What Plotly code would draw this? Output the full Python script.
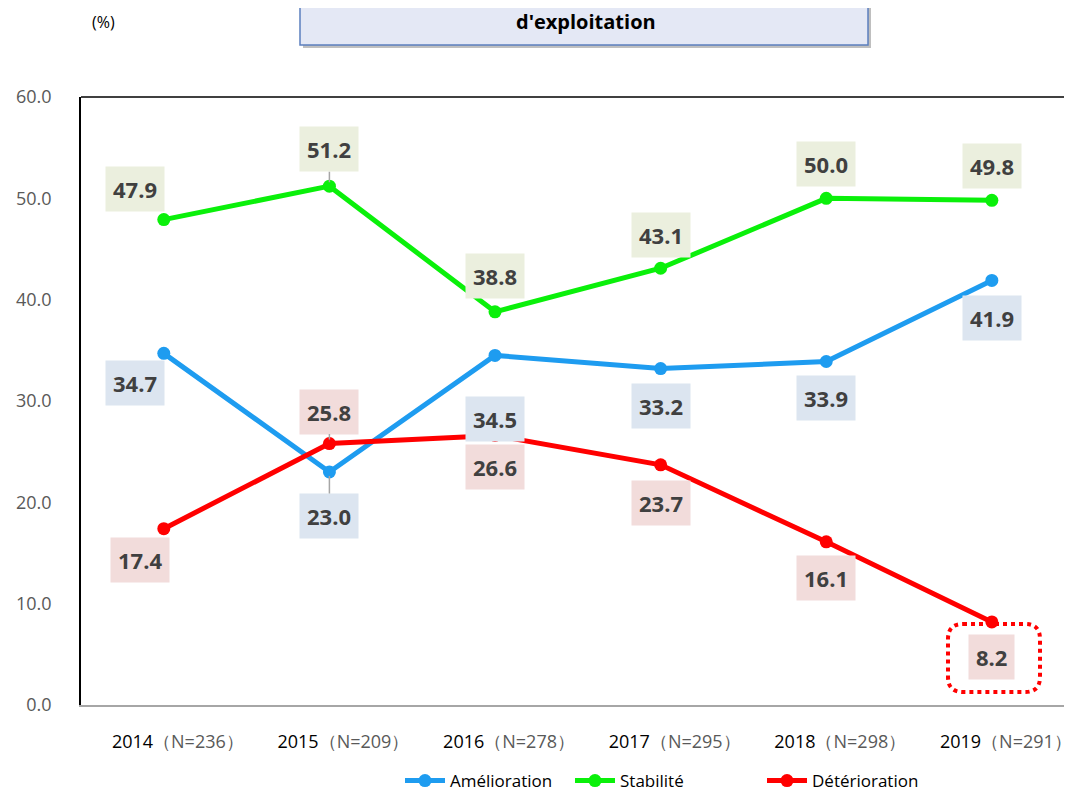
import plotly.graph_objects as go

years = ["2014", "2015", "2016", "2017", "2018", "2019"]
n_counts = ["236", "209", "278", "295", "298", "291"]
amelioration = [34.7, 23.0, 34.5, 33.2, 33.9, 41.9]
stabilite = [47.9, 51.2, 38.8, 43.1, 50.0, 49.8]
deterioration = [17.4, 25.8, 26.6, 23.7, 16.1, 8.2]
y_ticks = [0, 10, 20, 30, 40, 50, 60]

BLUE = "#1E9CF0"
GREEN = "#0AF00A"
RED = "#FF0000"

OFF = 8  # page body margin
W, H = 1072 - OFF, 797 - OFF
L = 81 - OFF
T = 97 - OFF
B = H - (705 - OFF)
PW = W - L
PH = H - T - B

def px(x):  # image pixel -> paper x
    return (x - OFF - L) / PW

def py(y):  # image pixel -> paper y
    return (705 - y) / PH

fig = go.Figure()
xs = list(range(len(years)))
for name, vals, col, lg in [("Amélioration", amelioration, BLUE, "legend"),
                            ("Stabilité", stabilite, GREEN, "legend2"),
                            ("Détérioration", deterioration, RED, "legend3")]:
    fig.add_trace(go.Scatter(x=xs, y=vals, name=name, mode="lines+markers",
                             line=dict(color=col, width=5),
                             marker=dict(color=col, size=13), legend=lg,
                             showlegend=True))

pad = "&nbsp;" * 6
ticktext = [f"{pad}<span style='color:#000000'>{y}</span><span style='color:#595959'>（N={n}）</span>"
            for y, n in zip(years, n_counts)]

offsets_g = [(-29, -31), (0, -37), (0, -36), (0, -33), (0, -34), (0, -34)]
offsets_b = [(-29, 30), (0, 44), (0, 64), (0, 37), (0, 37), (0, 38)]
offsets_r = [(-24, 31), (0, -32), (0, 32), (0, 38), (0, 36), (0, 35)]
leaders = {("g", 1), ("b", 1), ("r", 1)}

annotations = []
for key, vals, offs, bg in [("g", stabilite, offsets_g, "#EBEFDE"),
                            ("b", amelioration, offsets_b, "#DCE5F0"),
                            ("r", deterioration, offsets_r, "#F2DCDB")]:
    for i, (v, (dx, dy)) in enumerate(zip(vals, offs)):
        common = dict(x=i, y=v, xref="x", yref="y", text=f"<b>{v:.1f}</b>",
                      font=dict(family="Open Sans", size=22, color="#404040"),
                      bgcolor=bg, borderpad=7)
        if (key, i) in leaders:
            annotations.append(dict(**common, showarrow=True, ax=dx, ay=dy,
                                    arrowhead=0, arrowwidth=1.5, arrowcolor="#A6A6A6",
                                    standoff=4))
        else:
            annotations.append(dict(**common, showarrow=False, xshift=dx, yshift=-dy))

annotations.append(dict(x=px(586), y=py(21), xref="paper", yref="paper",
                        xanchor="center", yanchor="middle",
                        text="<b>d'exploitation</b>", showarrow=False,
                        font=dict(family="Open Sans", size=20, color="#000000")))
annotations.append(dict(x=px(103), y=py(22), xref="paper", yref="paper",
                        xanchor="center", yanchor="middle",
                        text="(%)", showarrow=False,
                        font=dict(family="Open Sans", size=16, color="#000000")))

shapes = []
shapes.append(dict(type="rect", xref="paper", yref="paper",
                   x0=px(303), x1=px(871), y0=py(48), y1=py(-20),
                   fillcolor="#BFBFBF", line=dict(width=0), layer="below"))
shapes.append(dict(type="rect", xref="paper", yref="paper",
                   x0=px(300), x1=px(868), y0=py(45), y1=py(-20),
                   fillcolor="#E4E8F5", line=dict(color="#5B7FBF", width=1.5)))
shapes.append(dict(type="line", xref="paper", yref="paper",
                   x0=0, x1=1, y0=1, y1=1, line=dict(color="#000000", width=1.5)))
x0, x1, y0, y1 = px(948), px(1040), py(692), py(624)
rx, ry = 15 / PW, 15 / PH
path = (f"M {x0+rx},{y1} L {x1-rx},{y1} Q {x1},{y1} {x1},{y1-ry} "
        f"L {x1},{y0+ry} Q {x1},{y0} {x1-rx},{y0} L {x0+rx},{y0} "
        f"Q {x0},{y0} {x0},{y0+ry} L {x0},{y1-ry} Q {x0},{y1} {x0+rx},{y1} Z")
shapes.append(dict(type="path", xref="paper", yref="paper", path=path,
                   line=dict(color=RED, width=4, dash="dot")))

legend_common = dict(orientation="h", xanchor="left", yanchor="middle", y=py(781),
                     font=dict(size=17, color="#000000"), itemwidth=40,
                     bgcolor="rgba(0,0,0,0)")

fig.update_layout(
    width=W, height=H,
    margin=dict(l=L, r=0, t=T, b=B, autoexpand=False),
    paper_bgcolor="white", plot_bgcolor="white",
    font=dict(family="Open Sans", color="#595959"),
    xaxis=dict(range=[-0.5, 5.484], tickvals=xs, ticktext=ticktext,
               showgrid=False, zeroline=False, showline=True,
               linecolor="#A6A6A6", linewidth=1.5, ticks="",
               tickfont=dict(size=18), ticklabelstandoff=20),
    yaxis=dict(range=[0, 60], tickvals=y_ticks,
               ticktext=[f"{v:.1f}" for v in y_ticks],
               showgrid=False, zeroline=False, showline=True,
               linecolor="#000000", linewidth=1.5, ticks="",
               tickfont=dict(size=18, color="#595959"), ticklabelstandoff=24),
    legend=dict(**legend_common, x=px(400)),
    legend2=dict(**legend_common, x=px(570)),
    legend3=dict(**legend_common, x=px(762)),
    annotations=annotations, shapes=shapes,
)

fig.write_html("out.html")
